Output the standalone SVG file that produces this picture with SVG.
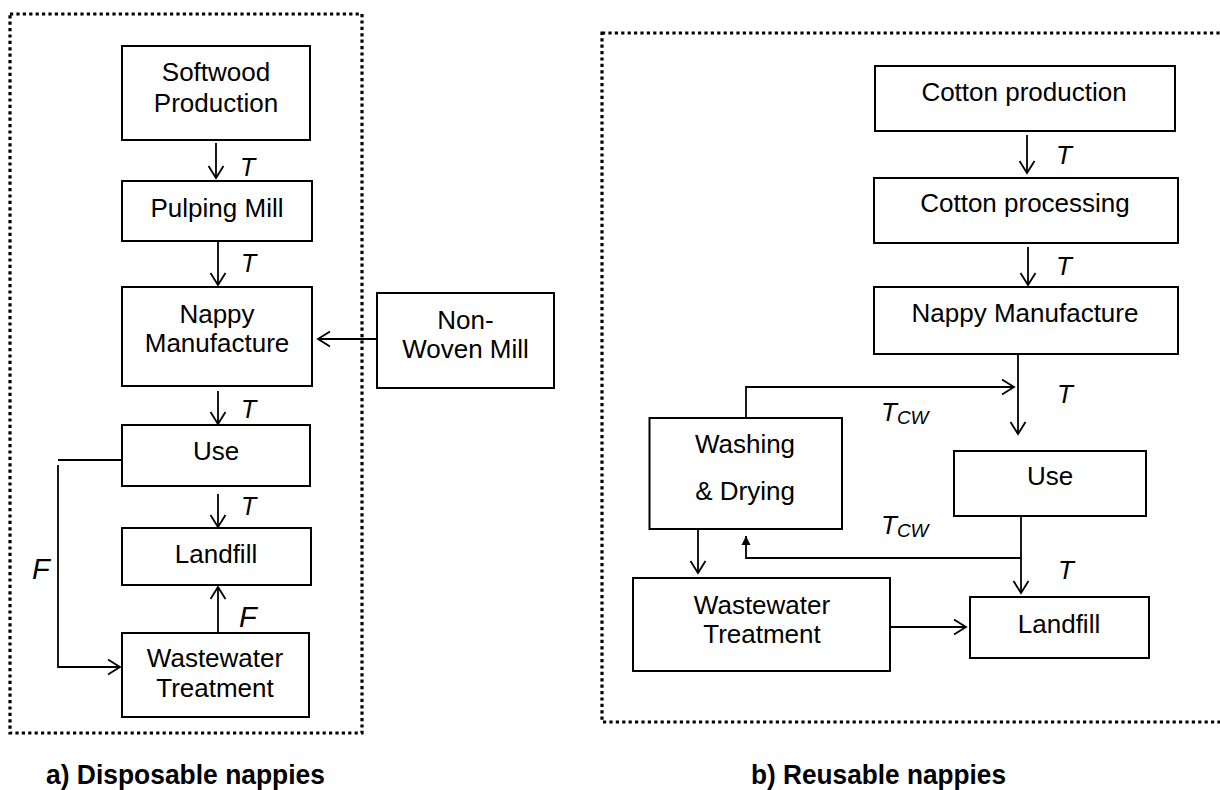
<svg xmlns="http://www.w3.org/2000/svg" width="1220" height="790" viewBox="0 0 1220 790">
<style>
.box{fill:#fff;stroke:#000;stroke-width:2}
.lbl{font-family:"Liberation Sans",Arial,sans-serif;font-size:26px;text-anchor:middle;fill:#000}
.it{font-family:"Liberation Sans",Arial,sans-serif;font-style:italic;fill:#000}
.cap{font-family:"Liberation Sans",Arial,sans-serif;font-weight:bold;font-size:27px;fill:#000}
.frame{fill:none;stroke:#000;stroke-width:3.2;stroke-dasharray:3.2 3.2}
.ln{fill:none;stroke:#000;stroke-width:1.8}
.arr{marker-end:url(#open)}
</style>
<defs>
<marker id="open" markerUnits="userSpaceOnUse" markerWidth="16" markerHeight="18" viewBox="0 0 16 18" refX="13" refY="9" orient="auto">
<path d="M1,1.5 L13,9 L1,16.5" fill="none" stroke="#000" stroke-width="1.8"/>
</marker>
<marker id="solid" markerUnits="userSpaceOnUse" markerWidth="10" markerHeight="10" viewBox="0 0 10 10" refX="9" refY="5" orient="auto">
<path d="M0,0.5 L9,5 L0,9.5 Z" fill="#000"/>
</marker>
</defs>

<rect class="frame" x="10" y="14" width="352" height="719"/>
<rect class="frame" x="602" y="33" width="640" height="689"/>

<g id="connectors">
<path class="ln arr" d="M216,143 V178"/>
<path class="ln arr" d="M218,235 V285"/>
<path class="ln arr" d="M377,339 H318"/>
<path class="ln arr" d="M218,391 V424"/>
<path class="ln" d="M122,460 H58"/>
<path class="ln arr" d="M58,465 V667 H120"/>
<path class="ln arr" d="M218,494 V527"/>
<path class="ln arr" d="M218,633 V587"/>

<path class="ln arr" d="M1027,135 V173"/>
<path class="ln arr" d="M1028,247 V285"/>
<path class="ln arr" d="M1018,354 V434"/>
<path class="ln arr" d="M746,418 V387 H1014"/>
<path class="ln arr" d="M1021,513 V593"/>
<path class="ln" d="M1021,558 H746 V536" marker-end="url(#solid)"/>
<path class="ln arr" d="M698,514 V573"/>
<path class="ln arr" d="M890,627 H966"/>

<text class="it" font-size="25" x="240" y="176">T</text>
<text class="it" font-size="25" x="241" y="272">T</text>
<text class="it" font-size="25" x="241" y="418">T</text>
<text class="it" font-size="25" x="241" y="515">T</text>
<text class="it" font-size="29" x="32" y="579">F</text>
<text class="it" font-size="29" x="239" y="627">F</text>

<text class="it" font-size="26" x="1056" y="164">T</text>
<text class="it" font-size="26" x="1056" y="275">T</text>
<text class="it" font-size="26" x="1057" y="403">T</text>
<text class="it" font-size="26" x="1058" y="579">T</text>
<text class="it" font-size="26" x="881" y="421">T<tspan font-size="19" dy="3">CW</tspan></text>
<text class="it" font-size="26" x="881" y="534">T<tspan font-size="19" dy="3">CW</tspan></text>
</g>

<g id="softwood">
<rect class="box" x="122" y="46" width="188" height="94"/>
<text class="lbl" x="216" y="81">Softwood</text>
<text class="lbl" x="216" y="112">Production</text>
</g>
<g id="pulping">
<rect class="box" x="122" y="181" width="190" height="60"/>
<text class="lbl" x="217" y="217">Pulping Mill</text>
</g>
<g id="nappy-a">
<rect class="box" x="122" y="287" width="190" height="99"/>
<text class="lbl" x="217" y="323">Nappy</text>
<text class="lbl" x="217" y="352">Manufacture</text>
</g>
<g id="nonwoven">
<rect class="box" x="377" y="293" width="177" height="95"/>
<text class="lbl" x="465.5" y="329">Non-</text>
<text class="lbl" x="465.5" y="358">Woven Mill</text>
</g>
<g id="use-a">
<rect class="box" x="122" y="425" width="188" height="61"/>
<text class="lbl" x="216" y="460">Use</text>
</g>
<g id="landfill-a">
<rect class="box" x="122" y="528" width="189" height="57"/>
<text class="lbl" x="216" y="563">Landfill</text>
</g>
<g id="wastewater-a">
<rect class="box" x="122" y="633" width="187" height="84"/>
<text class="lbl" x="215" y="667">Wastewater</text>
<text class="lbl" x="215" y="697">Treatment</text>
</g>

<g id="cotton-prod">
<rect class="box" x="875" y="66" width="300" height="65"/>
<text class="lbl" x="1024" y="101">Cotton production</text>
</g>
<g id="cotton-proc">
<rect class="box" x="874" y="178" width="304" height="65"/>
<text class="lbl" x="1025" y="212">Cotton processing</text>
</g>
<g id="nappy-b">
<rect class="box" x="874" y="287" width="304" height="67"/>
<text class="lbl" x="1025" y="322">Nappy Manufacture</text>
</g>
<g id="washing">
<rect class="box" x="649.5" y="418" width="192.5" height="111"/>
<text class="lbl" x="745" y="453">Washing</text>
<text class="lbl" x="745" y="500">&amp; Drying</text>
</g>
<g id="use-b">
<rect class="box" x="954" y="451" width="192" height="65"/>
<text class="lbl" x="1050" y="485">Use</text>
</g>
<g id="wastewater-b">
<rect class="box" x="633" y="578" width="257" height="93"/>
<text class="lbl" x="762" y="614">Wastewater</text>
<text class="lbl" x="762" y="643">Treatment</text>
</g>
<g id="landfill-b">
<rect class="box" x="970" y="597" width="179" height="61"/>
<text class="lbl" x="1059" y="633">Landfill</text>
</g>

<text class="cap" x="46" y="784" textLength="279" lengthAdjust="spacingAndGlyphs">a) Disposable nappies</text>
<text class="cap" x="751" y="784" textLength="255" lengthAdjust="spacingAndGlyphs">b) Reusable nappies</text>
</svg>
